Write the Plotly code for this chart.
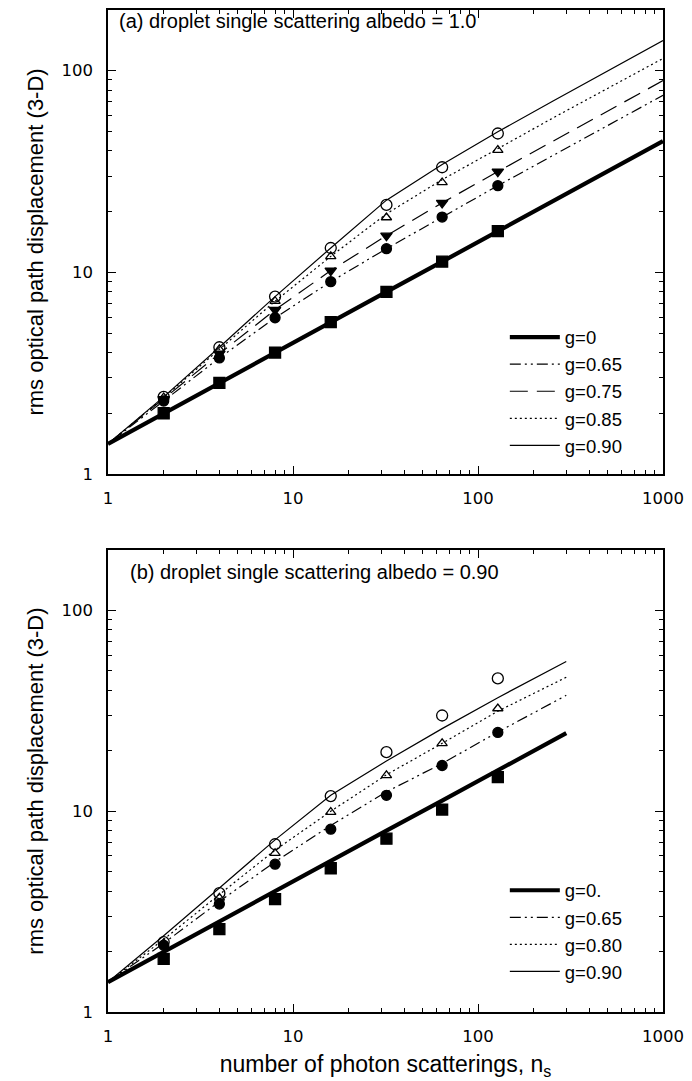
import plotly.graph_objects as go

# number of photon scatterings
n_line_a = [1, 2, 4, 8, 16, 32, 64, 128, 256, 512, 1000]
n_line_b = [1, 2, 4, 8, 16, 32, 64, 128, 300]
n_pts = [2, 4, 8, 16, 32, 64, 128]

# (a) albedo = 1.0 : curves
a_g000 = [1.41, 2.0, 2.83, 4.0, 5.66, 8.0, 11.3, 16.0, 22.6, 32.0, 44.7]
a_g065 = [1.41, 2.30, 3.76, 5.95, 8.99, 13.1, 18.8, 26.9, 38.1, 54.0, 75.5]
a_g075 = [1.41, 2.35, 3.95, 6.51, 10.2, 15.2, 22.1, 31.6, 45.0, 63.8, 89.3]
a_g085 = [1.41, 2.39, 4.15, 7.19, 12.0, 19.5, 28.8, 41.2, 58.5, 82.5, 115.0]
a_g090 = [1.41, 2.41, 4.25, 7.58, 13.2, 22.8, 34.3, 49.8, 71.0, 100.5, 141.0]
# (a) symbols
a_sq = [2.0, 2.83, 4.0, 5.66, 8.0, 11.3, 16.0]
a_dot = [2.30, 3.76, 5.95, 8.99, 13.1, 18.8, 26.9]
a_tri_dn = [2.35, 3.95, 6.51, 10.2, 15.2, 22.1, 31.6]
a_tri_up = [2.39, 4.15, 7.19, 12.0, 18.7, 27.9, 40.4]
a_circ = [2.41, 4.25, 7.58, 13.2, 21.6, 33.2, 48.8]

# (b) albedo = 0.90 : curves
b_g000 = [1.41, 2.0, 2.83, 4.0, 5.66, 8.0, 11.3, 16.0, 24.5]
b_g065 = [1.41, 2.2, 3.55, 5.6, 8.5, 12.5, 17.3, 24.8, 37.8]
b_g080 = [1.41, 2.3, 3.85, 6.4, 10.0, 15.2, 21.8, 31.5, 46.5]
b_g090 = [1.41, 2.4, 4.15, 7.2, 12.0, 17.8, 25.8, 36.8, 55.7]
# (b) symbols
b_sq = [1.84, 2.59, 3.65, 5.2, 7.3, 10.2, 14.8]
b_dot = [2.15, 3.45, 5.45, 8.14, 12.0, 16.9, 24.7]
b_tri = [2.2, 3.7, 6.18, 9.9, 15.1, 21.8, 32.5]
b_circ = [2.23, 3.91, 6.85, 11.9, 19.7, 30.0, 45.9]

x_ticks = [1, 10, 100, 1000]
y_ticks = [1, 10, 100]
minor_x = [m * d for d in (1, 10, 100) for m in range(2, 10)]
minor_y = [m * d for d in (1, 10) for m in range(2, 10)] + [200]

FONT = "Liberation Sans, Arial, Helvetica, sans-serif"
TICKFONT = dict(family="DejaVu Sans, sans-serif", size=16.5, color="black")

DASHDOT2 = "11px,4px,2px,4px,2px,4px"
LONGDASH = "18px,9px"
DOTS = "2px,3px"

fig = go.Figure()


def curve(x, y, name, width, dash, xa, ya, legend):
    fig.add_trace(go.Scatter(x=x, y=y, mode="lines", name=name,
                             line=dict(color="black", width=width, dash=dash),
                             xaxis=xa, yaxis=ya, legend=legend))


def pts(x, y, symbol, size, xa, ya):
    fig.add_trace(go.Scatter(x=x, y=y, mode="markers", showlegend=False,
                             marker=dict(symbol=symbol, size=size, color="black",
                                         line=dict(color="black", width=1.3)),
                             xaxis=xa, yaxis=ya))


# panel (a)
curve(n_line_a, a_g000, "g=0", 4.2, "solid", "x", "y", "legend")
curve(n_line_a, a_g065, "g=0.65", 1.2, DASHDOT2, "x", "y", "legend")
curve(n_line_a, a_g075, "g=0.75", 1.2, LONGDASH, "x", "y", "legend")
curve(n_line_a, a_g085, "g=0.85", 1.2, DOTS, "x", "y", "legend")
curve(n_line_a, a_g090, "g=0.90", 1.2, "solid", "x", "y", "legend")
pts(n_pts, a_sq, "square", 11, "x", "y")
pts(n_pts, a_dot, "circle", 10, "x", "y")
pts(n_pts, a_tri_dn, "triangle-down", 10, "x", "y")
pts(n_pts, a_tri_up, "triangle-up-open", 9, "x", "y")
pts(n_pts, a_circ, "circle-open", 11, "x", "y")

# panel (b)
curve(n_line_b, b_g000, "g=0.", 4.2, "solid", "x2", "y2", "legend2")
curve(n_line_b, b_g065, "g=0.65", 1.2, DASHDOT2, "x2", "y2", "legend2")
curve(n_line_b, b_g080, "g=0.80", 1.2, DOTS, "x2", "y2", "legend2")
curve(n_line_b, b_g090, "g=0.90", 1.2, "solid", "x2", "y2", "legend2")
pts(n_pts, b_sq, "square", 11, "x2", "y2")
pts(n_pts, b_dot, "circle", 10, "x2", "y2")
pts(n_pts, b_tri, "triangle-up-open", 9, "x2", "y2")
pts(n_pts, b_circ, "circle-open", 11, "x2", "y2")


def xaxis(anchor, title=None):
    d = dict(type="log", range=[0, 3], anchor=anchor,
             tickmode="array", tickvals=x_ticks, ticktext=[str(v) for v in x_ticks],
             ticks="inside", ticklen=8, tickwidth=1.3, tickcolor="black",
             minor=dict(ticks="inside", ticklen=4, tickwidth=1.1, tickcolor="black",
                        tickmode="array", tickvals=minor_x, showgrid=False),
             showline=True, linewidth=1.6, linecolor="black", mirror="ticks",
             showgrid=False, zeroline=False, tickfont=TICKFONT, ticklabelstandoff=8)
    if title:
        d["title"] = dict(text=title, font=dict(family=FONT, size=23, color="black"), standoff=11)
    return d


def yaxis(domain, anchor):
    return dict(type="log", range=[0, 2.30103], domain=domain, anchor=anchor,
                tickmode="array", tickvals=y_ticks, ticktext=[str(v) for v in y_ticks],
                ticks="inside", ticklen=8, tickwidth=1.3, tickcolor="black",
                minor=dict(ticks="inside", ticklen=4, tickwidth=1.1, tickcolor="black",
                           tickmode="array", tickvals=minor_y, showgrid=False),
                showline=True, linewidth=1.6, linecolor="black", mirror="ticks",
                showgrid=False, zeroline=False, tickfont=TICKFONT, ticklabelstandoff=10,
                title=dict(text="rms optical path displacement (3-D)",
                           font=dict(family=FONT, size=22, color="black"), standoff=12))


legend_style = dict(xanchor="left", yanchor="top", bgcolor="rgba(0,0,0,0)",
                    font=dict(family=FONT, size=18.5, color="black"),
                    tracegroupgap=0, itemwidth=50)

fig.update_layout(
    width=692, height=1081, autosize=False,
    margin=dict(l=108, r=29, t=8, b=69),
    paper_bgcolor="white", plot_bgcolor="white",
    font=dict(family=FONT, color="black"),
    xaxis=xaxis("y"),
    yaxis=yaxis([0.537, 1.0], "x"),
    xaxis2=xaxis("y2", "number of photon scatterings, n<sub>s</sub>"),
    yaxis2=yaxis([0.0, 0.461], "x2"),
    legend=dict(x=0.715, y=0.692, **legend_style),
    legend2=dict(x=0.715, y=0.14, **legend_style),
    annotations=[
        dict(text="(a) droplet single scattering albedo = 1.0", xref="x domain", yref="y domain",
             x=0.016, y=0.976, xanchor="left", yanchor="middle", showarrow=False,
             font=dict(family=FONT, size=20, color="black")),
        dict(text="(b) droplet single scattering albedo = 0.90", xref="x2 domain", yref="y2 domain",
             x=0.036, y=0.952, xanchor="left", yanchor="middle", showarrow=False,
             font=dict(family=FONT, size=20, color="black")),
    ],
)

# page body has a default 8px margin; drop it so the figure fills the window
fig.write_html("out.html", config={"displayModeBar": False},
               post_script="document.body.style.margin='0';")
